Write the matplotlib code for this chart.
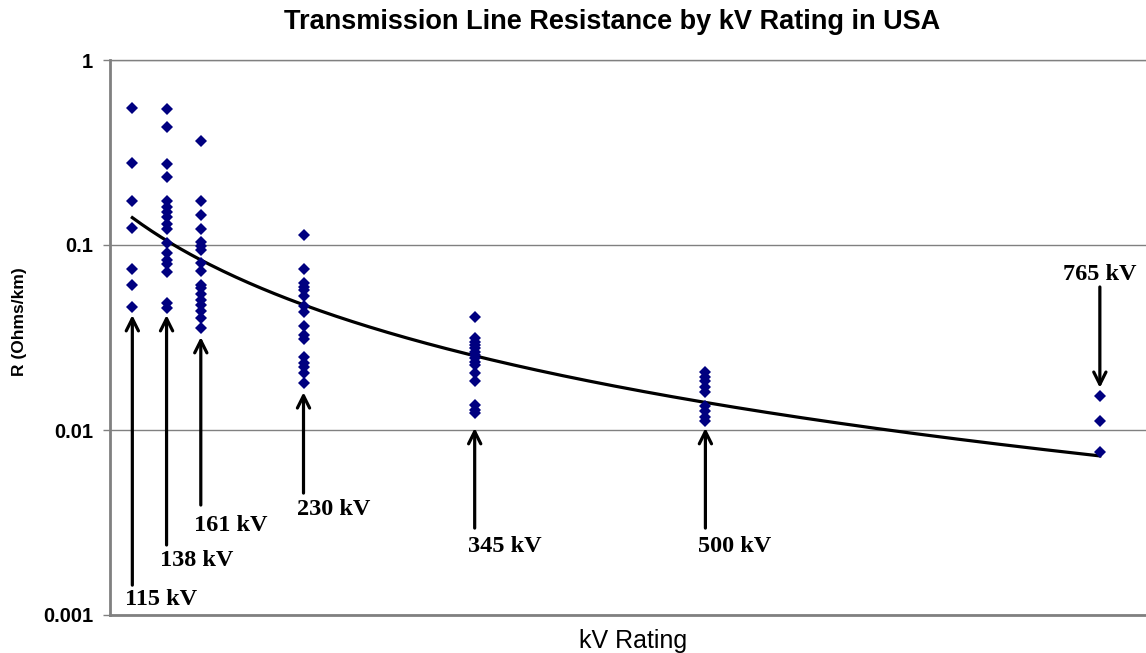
import numpy as np
import matplotlib
matplotlib.use("Agg")
import matplotlib.pyplot as plt

# ---- data ----
kv_115 = [0.548, 0.277, 0.173, 0.123, 0.074, 0.0608, 0.046]
kv_138 = [0.546, 0.434, 0.275, 0.234, 0.173, 0.160, 0.150, 0.141, 0.130, 0.122,
          0.103, 0.0908, 0.0826, 0.0785, 0.0716, 0.0486, 0.0456]
kv_161 = [0.367, 0.172, 0.146, 0.122, 0.104, 0.0988, 0.0935, 0.0801, 0.0728,
          0.0611, 0.0582, 0.0544, 0.0507, 0.0472, 0.0438, 0.0403, 0.0358]
kv_230 = [0.113, 0.0739, 0.0621, 0.0595, 0.0571, 0.0530, 0.0468, 0.0436, 0.0365,
          0.0326, 0.0309, 0.0249, 0.0231, 0.0220, 0.0204, 0.0179]
kv_345 = [0.0410, 0.0313, 0.0300, 0.0288, 0.0276, 0.0265, 0.0254, 0.0244, 0.0234,
          0.0225, 0.0204, 0.0183, 0.0137, 0.0128, 0.0123]
kv_500 = [0.0207, 0.0194, 0.0183, 0.0171, 0.0161, 0.0134, 0.0126, 0.0118, 0.0112]
kv_765 = [0.0153, 0.0112, 0.00763]

ratings = [115, 138, 161, 230, 345, 500, 765]
groups = [kv_115, kv_138, kv_161, kv_230, kv_345, kv_500, kv_765]
labels = ["115 kV", "138 kV", "161 kV", "230 kV", "345 kV", "500 kV", "765 kV"]

# annotation placement in data coords (R values)
arrow_head = [0.0418, 0.0418, 0.0318, 0.0160, 0.01025, 0.01025, 0.0169]
arrow_tail = [0.00145, 0.00239, 0.00393, 0.00456, 0.00295, 0.00295, 0.0593]
label_pos = [0.00121, 0.00196, 0.00306, 0.00374, 0.00236, 0.00236, 0.0689]

yticks = [0.001, 0.01, 0.1, 1]
ytick_labels = ["0.001", "0.01", "0.1", "1"]

# ---- figure ----
W, H = 1146, 653
fig = plt.figure(figsize=(W / 100, H / 100), dpi=100)
ax = fig.add_axes([110 / W, 1 - 615 / H, (W - 110) / W, (615 - 60) / H])

x_all = np.concatenate([[r] * len(g) for r, g in zip(ratings, groups)])
y_all = np.concatenate(groups)
ax.plot(x_all, y_all, linestyle="none", marker="D", markersize=6,
        color="#000080", markeredgewidth=0, zorder=3)

# power trendline (least squares in log-log space, like Excel)
b, loga = np.polyfit(np.log(x_all), np.log(y_all), 1)
xt = np.linspace(min(ratings), max(ratings), 300)
ax.plot(xt, np.exp(loga) * xt ** b, color="black", lw=2.3, zorder=2)

ax.set_yscale("log")
ax.set_ylim(0.001, 1)
ax.set_xlim(100, 796)
ax.set_yticks(yticks)
ax.set_yticklabels(ytick_labels)
ax.yaxis.set_minor_locator(matplotlib.ticker.NullLocator())
ax.set_xticks([])
for t in ax.get_yticklabels():
    t.set_fontweight("bold")
    t.set_fontsize(14.5)
    t.set_fontfamily("Liberation Sans")
ax.tick_params(axis="y", length=5, width=1, color="#808080", pad=7)

ax.grid(axis="y", color="#808080", lw=1)
ax.set_axisbelow(True)
ax.spines["right"].set_visible(False)
ax.spines["top"].set_color("#808080")
ax.spines["top"].set_linewidth(1)
ax.spines["left"].set_color("#808080")
ax.spines["left"].set_linewidth(2)
ax.spines["bottom"].set_color("#808080")
ax.spines["bottom"].set_linewidth(2)

for r, lab, tail, lp, head in zip(ratings, labels, arrow_tail, label_pos, arrow_head):
    ax.annotate("", xy=(r, head), xytext=(r, tail),
                arrowprops=dict(arrowstyle="->", lw=2.3, color="black",
                                mutation_scale=22, shrinkA=0, shrinkB=0))
    if r == 765:
        ax.annotate(lab, xy=(r, lp), xytext=(0, 0), textcoords="offset points",
                    ha="center", va="center", fontsize=17.5, fontweight="bold",
                    family="Liberation Serif")
    else:
        ax.annotate(lab, xy=(r, lp), xytext=(-5, 0), textcoords="offset points",
                    ha="left", va="center", fontsize=17.5, fontweight="bold",
                    family="Liberation Serif")

fig.text(633 / W, 1 - 648 / H, "kV Rating", ha="center", va="baseline",
         fontsize=18, family="Liberation Sans")
fig.text(20 / W, 1 - 322 / H, "R (Ohms/km)", ha="center", va="center",
         rotation=90, fontsize=12.5, fontweight="bold", family="Liberation Sans")
fig.text(612 / W, 1 - 22 / H, "Transmission Line Resistance by kV Rating in USA",
         ha="center", va="center", fontsize=19.5, fontweight="bold",
         family="Liberation Sans")

fig.savefig("out.png", dpi=100)
